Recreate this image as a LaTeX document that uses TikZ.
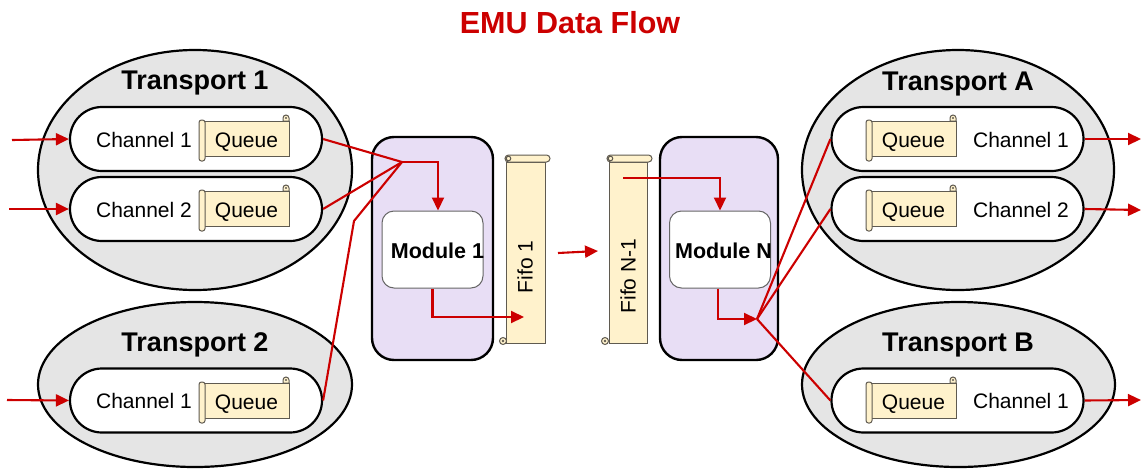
\documentclass[tikz,border=0pt]{standalone}
\usepackage{fontspec}
\setmainfont{Liberation Sans}
\usetikzlibrary{arrows.meta,shapes.geometric,shapes.misc}
\definecolor{emured}{HTML}{CC0000}
\definecolor{tgray}{HTML}{E5E5E5}
\definecolor{modfill}{HTML}{E8DEF5}
\definecolor{scrollfill}{HTML}{FFF2CC}
\definecolor{scrollline}{HTML}{5F5A50}
\newcommand\queuescroll[2]{%
  \begin{scope}[shift={#2}]
    \path[scroll] (37,-18) -- (37,-21) arc[start angle=180,end angle=360,radius=3] -- (43,-18) -- cycle;
    \node[qbody] (#1) at (0.5,-0.5) {};
    \node[cbase] (#1t) at (0.5,8) {Queue};
    \path[scroll, rounded corners=2.5pt] (-47,-19) rectangle (-41,22);
    \fill[scrollline] (40,-21) circle[radius=1.2];
  \end{scope}}
\begin{document}
\begin{tikzpicture}[x=1pt,y=-1pt,
  transport/.style={ellipse, draw=black, fill=tgray, line width=2.2pt, inner sep=0pt},
  chan/.style={rounded rectangle, draw=black, fill=white, line width=2.2pt, minimum width=252pt, minimum height=64pt, inner sep=0pt},
  ttl/.style={font=\fontsize{27}{30}\selectfont\bfseries, anchor=base},
  ctext/.style={font=\fontsize{21}{24}\selectfont},
  cbase/.style={ctext, anchor=base},
  qbody/.style={draw=scrollline, fill=scrollfill, line width=1pt, minimum width=85pt, minimum height=35pt, inner sep=0pt},
  scroll/.style={draw=scrollline, fill=scrollfill, line width=1pt},
  module/.style={draw=black, fill=modfill, rounded corners=22pt, line width=2.4pt, inner sep=0pt},
  modin/.style={draw=gray!80!black, fill=white, rounded corners=12pt, line width=1pt, minimum width=101pt, minimum height=77pt, inner sep=0pt},
  modtxt/.style={font=\fontsize{21.5}{24}\selectfont\bfseries, anchor=base},
  fifobody/.style={draw=scrollline, fill=scrollfill, line width=1pt, minimum height=181pt, inner sep=0pt},
  flow/.style={draw=emured, line width=2.1pt},
  flowarr/.style={flow, -{Triangle[length=13pt,width=12pt]}}
]
\useasboundingbox (0,0) rectangle (1141,469);

% title
\node[font=\fontsize{30.5}{34}\selectfont\bfseries, text=emured, anchor=base] (title) at (570,33) {EMU Data Flow};

% transports
\node[transport, minimum width=314pt, minimum height=240pt] (t1) at (195,170) {};
\node[transport, minimum width=314pt, minimum height=165pt] (t2) at (195,384.5) {};
\node[transport, minimum width=312pt, minimum height=240pt] (ta) at (958,170) {};
\node[transport, minimum width=313pt, minimum height=165pt] (tb) at (958.5,384.5) {};

\node[ttl] (t1l) at (195,89) {Transport 1};
\node[ttl] (t2l) at (195,351) {Transport 2};
\node[ttl] (tal) at (958,90) {Transport A};
\node[ttl] (tbl) at (958,351) {Transport B};

% channels
\node[chan] (t1c1) at (196,139) {};
\node[chan] (t1c2) at (196,209) {};
\node[chan] (t2c1) at (196,400.5) {};
\node[chan] (tac1) at (957.5,139) {};
\node[chan] (tac2) at (957.5,209) {};
\node[chan] (tbc1) at (957.5,400.5) {};

\node[cbase] (t1c1l) at (144,147) {Channel 1};
\node[cbase] (t1c2l) at (144,217) {Channel 2};
\node[cbase] (t2c1l) at (144,408.5) {Channel 1};
\node[cbase] (tac1l) at (1021,147) {Channel 1};
\node[cbase] (tac2l) at (1021,217) {Channel 2};
\node[cbase] (tbc1l) at (1021,408.5) {Channel 1};

\queuescroll{q1}{(246,139)}
\queuescroll{q2}{(246,209)}
\queuescroll{q3}{(246,401)}
\queuescroll{qa1}{(913,139)}
\queuescroll{qa2}{(913,209)}
\queuescroll{qb1}{(913,401)}

% modules
\node[module, minimum width=121pt, minimum height=223pt] (m1) at (432.5,248.5) {};
\node[module, minimum width=118pt, minimum height=223pt] (mN) at (719,248.5) {};
\node[modin] (m1i) at (432.5,249.5) {};
\node[modin] (mNi) at (720,249.5) {};
\node[modtxt] (m1t) at (437.5,258) {Module 1};
\node[modtxt] (mNt) at (723.5,258) {Module N};

% fifos
\node[fifobody, minimum width=39pt] (f1) at (525.5,252.5) {};
\path[scroll, rounded corners=3.5pt] (505,155) rectangle (550,162);
\path[scroll] (508.5,158.5) circle[radius=2.3];
\path[scroll] (503,341) circle[radius=3.5];
\fill[scrollline] (503,341) circle[radius=1.3];
\node[ctext, rotate=90] (f1t) at (525,267) {Fifo 1};

\node[fifobody, minimum width=38pt] (fN) at (628,252.5) {};
\path[scroll, rounded corners=3.5pt] (607,155) rectangle (652,162);
\path[scroll] (610.5,158.5) circle[radius=2.3];
\path[scroll] (605,341) circle[radius=3.5];
\fill[scrollline] (605,341) circle[radius=1.3];
\node[ctext, rotate=90] (fNt) at (628,276) {Fifo N-1};

% coordinates
\coordinate (in1) at (12,140);
\coordinate (in2) at (9,209);
\coordinate (in3) at (7,400);
\coordinate (out1) at (1141,139);
\coordinate (out2) at (1141,210);
\coordinate (out3) at (1141,400);
\coordinate (j1) at (402,162);
\coordinate (k1) at (354,221);
\coordinate (f1in) at (524,317);
\coordinate (fNout) at (623,178);
\coordinate (j2) at (757,319);
\coordinate (mida) at (558,253);
\coordinate (midb) at (598,251);

% flows
\draw[flowarr] (in1) -- (t1c1.west);
\draw[flowarr] (in2) -- (t1c2.west);
\draw[flowarr] (in3) -- (t2c1.west);
\draw[flowarr] (tac1.east) -- (out1);
\draw[flowarr] (tac2.east) -- (out2);
\draw[flowarr] (tbc1.east) -- (out3);

\draw[flow] (t1c1.east) -- (j1);
\draw[flow] (t1c2.east) -- (j1);
\draw[flow] (t2c1.east) -- (k1) -- (j1);
\draw[flowarr] (j1) -| ([xshift=5.5pt]m1i.north);
\draw[flowarr] (m1i.south) |- (f1in);
\draw[flowarr] (mida) -- (midb);
\draw[flowarr] (fNout) -| (mNi.north);
\draw[flowarr] ([xshift=-2pt]mNi.south) |- (j2);
\draw[flow] (j2) -- (tac1.west);
\draw[flow] (j2) -- (tac2.west);
\draw[flow] (j2) -- (tbc1.west);
\end{tikzpicture}
\end{document}
